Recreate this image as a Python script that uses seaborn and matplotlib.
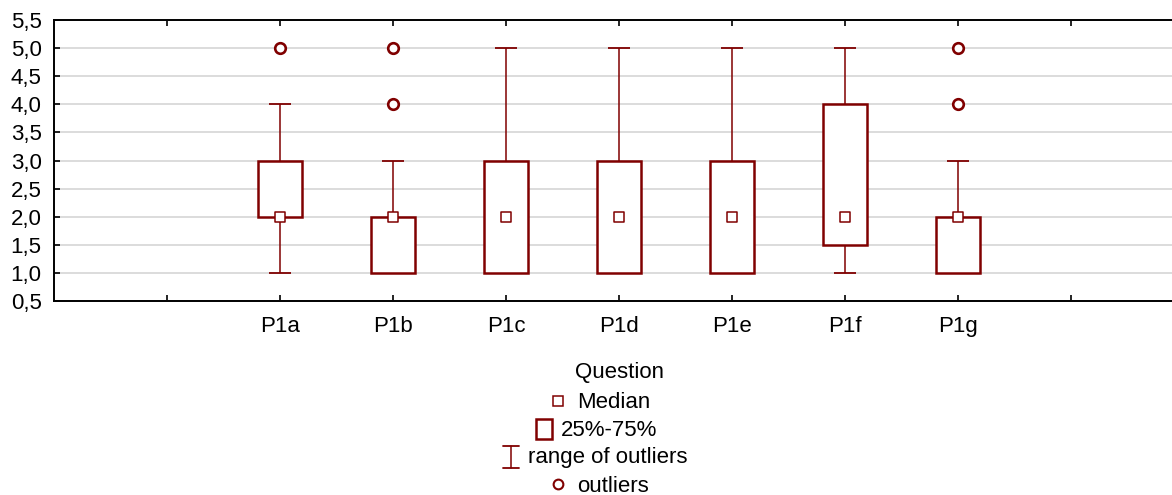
import numpy as np
import pandas as pd
import seaborn as sns
import matplotlib.pyplot as plt
from matplotlib.lines import Line2D
from matplotlib.patches import Rectangle

# box statistics
questions = ["P1a", "P1b", "P1c", "P1d", "P1e", "P1f", "P1g"]
median = [2.0, 2.0, 2.0, 2.0, 2.0, 2.0, 2.0]
q1 = [2.0, 1.0, 1.0, 1.0, 1.0, 1.5, 1.0]
q3 = [3.0, 2.0, 3.0, 3.0, 3.0, 4.0, 2.0]
whisk_lo = [1.0, 1.0, 1.0, 1.0, 1.0, 1.0, 1.0]
whisk_hi = [4.0, 3.0, 5.0, 5.0, 5.0, 5.0, 3.0]
outlier_q = ["P1a", "P1b", "P1b", "P1g", "P1g"]
outlier_val = [5.0, 4.0, 5.0, 4.0, 5.0]

tick_labels = [""] + questions + [""]
col = "#800000"

sns.set_style("white")
plt.rcParams["font.family"] = ["Liberation Sans", "DejaVu Sans"]
plt.rcParams["font.size"] = 16
plt.rcParams["text.color"] = "black"
plt.rcParams["axes.labelcolor"] = "black"

W, H = 1172, 495
fig = plt.figure(figsize=(W / 100, H / 100), dpi=100)
ax = fig.add_axes([54 / W, 1 - 301 / H, 1130 / W, 281 / H])

pos = {q: i + 1 for i, q in enumerate(questions)}
stats = pd.DataFrame({"q": questions, "x": [pos[q] for q in questions],
                      "median": median, "q1": q1, "q3": q3,
                      "lo": whisk_lo, "hi": whisk_hi})
outl = pd.DataFrame({"x": [pos[q] for q in outlier_q], "y": outlier_val})

# whiskers
ax.vlines(stats["x"], stats["lo"], stats["q1"], color=col, lw=1.1, zorder=2)
ax.vlines(stats["x"], stats["q3"], stats["hi"], color=col, lw=1.1, zorder=2)
ax.hlines(stats["lo"], stats["x"] - 0.1, stats["x"] + 0.1, color=col, lw=1.3, zorder=2)
ax.hlines(stats["hi"], stats["x"] - 0.1, stats["x"] + 0.1, color=col, lw=1.3, zorder=2)
# boxes
ax.bar(stats["x"], stats["q3"] - stats["q1"], bottom=stats["q1"], width=0.39,
       facecolor="white", edgecolor=col, linewidth=1.8, zorder=3)

sns.scatterplot(data=stats, x="x", y="median", marker="s", s=48,
                facecolor="white", edgecolor=col, linewidth=1.1, ax=ax, zorder=4)
sns.scatterplot(data=outl, x="x", y="y", marker="o", s=58,
                facecolor="white", edgecolor=col, linewidth=1.9, ax=ax, zorder=4)

ax.set_xlim(-1, 9)
ax.set_ylim(0.5, 5.5)
ax.set_xticks(range(len(tick_labels)))
ax.set_xticklabels(tick_labels)
yt = np.arange(0.5, 5.51, 0.5)
ax.set_yticks(yt)
ax.set_yticklabels([f"{v:.1f}".replace(".", ",") for v in yt])
ax.yaxis.grid(True, color="#d9d9d9", lw=1.3)
ax.set_axisbelow(True)
ax.tick_params(axis="both", direction="in", length=4, width=1.2, colors="black",
               labelsize=16, top=True, left=True, right=False, bottom=True)
ax.tick_params(axis="x", pad=11)
ax.tick_params(axis="y", pad=9)
for s in ax.spines.values():
    s.set_color("black")
    s.set_linewidth(1.4)
ax.set_xlabel("Question", fontsize=16, labelpad=18)
ax.set_ylabel("")


# legend drawn in pixel space, rows centred like the original
def fx(x):
    return x / W


def fy(y):
    return 1 - y / H


fig.add_artist(Line2D([fx(558)], [fy(401)], marker="s", ms=7, mfc="white",
                      mec=col, mew=1.1, transform=fig.transFigure))
fig.text(fx(577), fy(402), "Median", va="center", ha="left", fontsize=16)
fig.add_artist(Rectangle((fx(536), fy(439)), 16 / W, 20 / H, fill=False,
                         ec=col, lw=1.8, transform=fig.transFigure))
fig.text(fx(561), fy(430), "25%-75%", va="center", ha="left", fontsize=16)
fig.add_artist(Line2D([fx(511), fx(511)], [fy(446), fy(468)], color=col, lw=1.1,
                      transform=fig.transFigure))
fig.add_artist(Line2D([fx(503), fx(519)], [fy(446), fy(446)], color=col, lw=1.3,
                      transform=fig.transFigure))
fig.add_artist(Line2D([fx(503), fx(519)], [fy(468), fy(468)], color=col, lw=1.3,
                      transform=fig.transFigure))
fig.text(fx(528), fy(457), "range of outliers", va="center", ha="left", fontsize=16)
fig.add_artist(Line2D([fx(558)], [fy(484)], marker="o", ms=7, mfc="white",
                      mec=col, mew=1.5, transform=fig.transFigure))
fig.text(fx(577), fy(486), "outliers", va="center", ha="left", fontsize=16)

fig.savefig("out.png", dpi=100, facecolor="white")
